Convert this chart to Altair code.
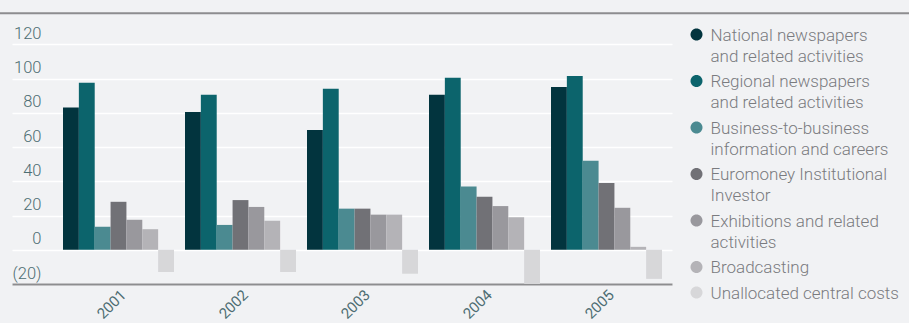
import altair as alt
import pandas as pd

# Operating profit by division, £m
YEARS = ["2001", "2002", "2003", "2004", "2005"]
SERIES = [
    "National newspapers\nand related activities",
    "Regional newspapers\nand related activities",
    "Business-to-business\ninformation and careers",
    "Euromoney Institutional\nInvestor",
    "Exhibitions and related\nactivities",
    "Broadcasting",
    "Unallocated central costs",
]
COLORS = ["#02343e", "#0c646c", "#4b8a91", "#717176", "#99989d", "#b4b3b7", "#d7d7d9"]

NATIONAL = [83, 80.5, 70, 90.5, 95]
REGIONAL = [97.5, 90.5, 94, 100.5, 101.5]
B2B = [13.5, 14.5, 24, 37, 52]
EUROMONEY = [28, 29, 24, 31, 39]
EXHIBITIONS = [17.5, 25, 20.5, 25.5, 24.5]
BROADCASTING = [12, 17, 20.5, 19, 1.7]
UNALLOCATED = [-13, -13, -14, -20, -17]

Y_TICKS = [-20, 0, 20, 40, 60, 80, 100, 120]

series_values = [NATIONAL, REGIONAL, B2B, EUROMONEY, EXHIBITIONS, BROADCASTING, UNALLOCATED]
rows = []
for name, values in zip(SERIES, series_values):
    for year, v in zip(YEARS, values):
        rows.append({"year": year, "series": name, "value": v})
df = pd.DataFrame(rows)

FONT = "Roboto"
AXIS_TEXT = "#4d6d72"
LEGEND_TEXT = "#7a7b7f"
RULE = "#8d8d8f"

# filled circle nudged down so it sits on the first line of a top-anchored label
LEGEND_DOT = "M-1,1.17A1,1,0,1,0,1,1.17A1,1,0,1,0,-1,1.17Z"

bars = alt.Chart(df).mark_bar().encode(
    x=alt.X(
        "year:N",
        sort=YEARS,
        scale=alt.Scale(paddingInner=11 / 122, paddingOuter=0.25, align=51 / 61),
        axis=alt.Axis(
            title=None,
            labelAngle=315,
            ticks=False,
            domainColor=RULE,
            domainWidth=2,
            labelColor=AXIS_TEXT,
            labelFontSize=15,
            labelFont=FONT,
            labelPadding=3,
        ),
    ),
    xOffset=alt.XOffset("series:N", sort=SERIES, scale=alt.Scale(paddingInner=0, paddingOuter=0)),
    y=alt.Y(
        "value:Q",
        scale=alt.Scale(domain=[-20, 140], nice=False, zero=True),
        axis=alt.Axis(
            title=None,
            values=Y_TICKS,
            domain=False,
            ticks=False,
            gridColor="#ffffff",
            gridWidth=1.3,
            labelAlign="right",
            labelBaseline="alphabetic",
            labelPadding=-29,
            labelOffset=-6,
            labelColor=AXIS_TEXT,
            labelFontSize=16.5,
            labelFont=FONT,
            labelFontWeight=300,
            labelExpr="datum.value < 0 ? '(' + (-datum.value) + ')' : datum.label",
        ),
    ),
    color=alt.Color(
        "series:N",
        sort=SERIES,
        scale=alt.Scale(domain=SERIES, range=COLORS),
        legend=alt.Legend(
            title=None,
            orient="none",
            legendX=676,
            legendY=9,
            padding=0,
            symbolType=LEGEND_DOT,
            symbolSize=144,
            symbolStrokeWidth=0,
            symbolOpacity=1,
            labelExpr="split(datum.label, '\\n')",
            labelBaseline="top",
            labelFont=FONT,
            labelFontSize=17,
            labelFontWeight=300,
            labelColor=LEGEND_TEXT,
            labelLimit=320,
            labelOffset=5.5,
            rowPadding=0.5,
        ),
    ),
)

top_rule = alt.Chart(pd.DataFrame({"edge": ["top"]})).mark_rule(
    color=RULE, strokeWidth=2
).encode(x=alt.value(-12), x2=alt.value(897), y=alt.value(3.3))

chart = (
    alt.layer(bars, top_rule)
    .properties(
        width=660,
        height=274,
        padding={"left": 12, "top": 10, "right": 237, "bottom": 39},
        autosize=alt.AutoSizeParams(type="none"),
        background="#f1f2f4",
    )
    .configure(font=FONT, style={"guide-label": {"lineHeight": 21}})
    .configure_view(stroke=None)
)

chart.save("out.html", embed_options={"renderer": "svg", "actions": False})
